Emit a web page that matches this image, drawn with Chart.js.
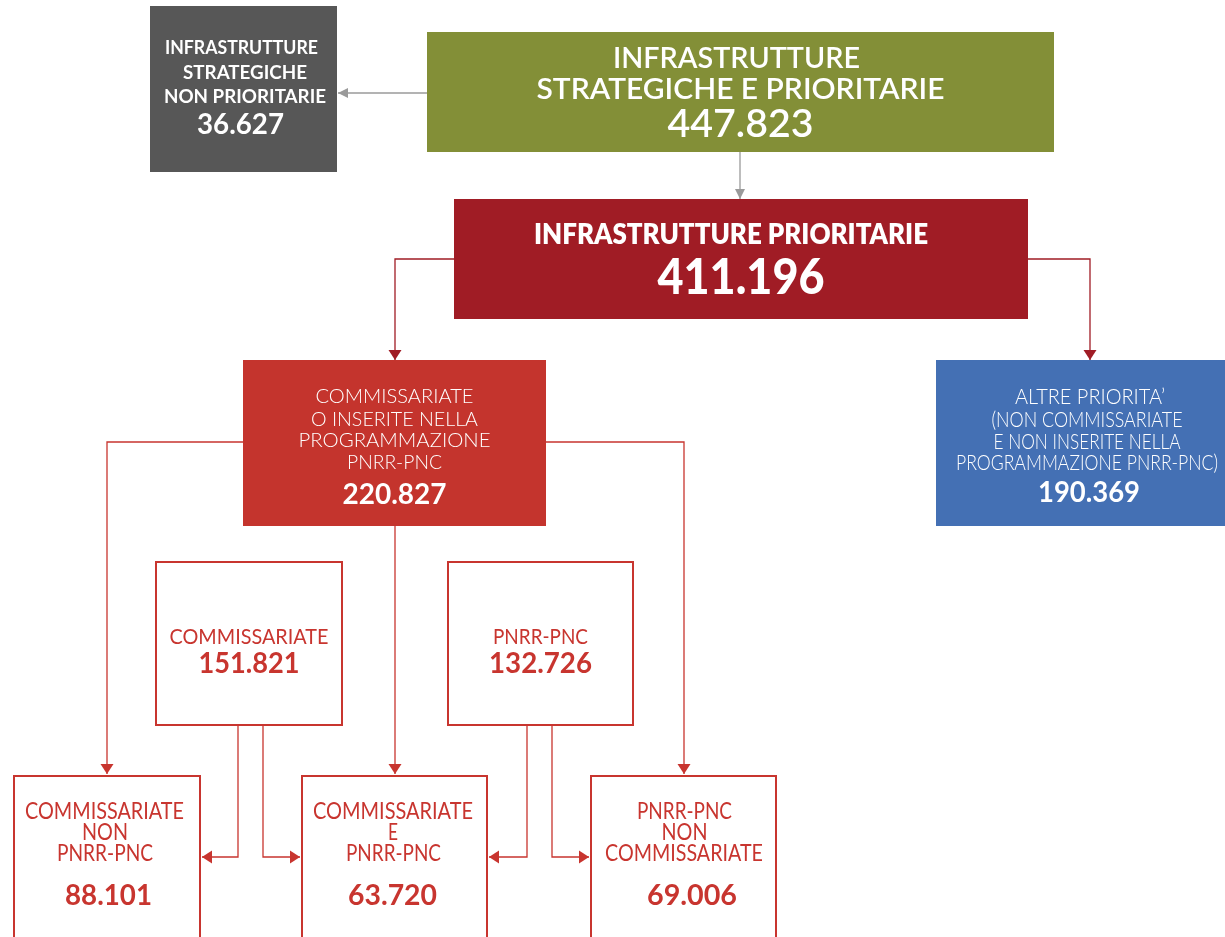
<!DOCTYPE html>
<html lang="it">
<head>
<meta charset="utf-8">
<title>Infrastrutture strategiche e prioritarie</title>
<script src="https://cdn.jsdelivr.net/npm/chart.js@4.4.1/dist/chart.umd.min.js"></script>
<style>
  html, body { margin: 0; padding: 0; background: #fff; }
  canvas { display: block; }
</style>
</head>
<body>
<canvas id="flow" width="1225" height="937"></canvas>
<script>
// Node labels (one entry per box, split in lines as in the original)
const nodeLabels = [
    ['INFRASTRUTTURE', 'STRATEGICHE E PRIORITARIE'],
    ['INFRASTRUTTURE', 'STRATEGICHE', 'NON PRIORITARIE'],
    ['INFRASTRUTTURE PRIORITARIE'],
    ['COMMISSARIATE', 'O INSERITE NELLA', 'PROGRAMMAZIONE', 'PNRR-PNC'],
    ['ALTRE PRIORITA\u2019', '(NON COMMISSARIATE', 'E NON INSERITE NELLA', 'PROGRAMMAZIONE PNRR-PNC)'],
    ['COMMISSARIATE'],
    ['PNRR-PNC'],
    ['COMMISSARIATE', 'NON', 'PNRR-PNC'],
    ['COMMISSARIATE', 'E', 'PNRR-PNC'],
    ['PNRR-PNC', 'NON', 'COMMISSARIATE']
];

// Values shown in each box
const nodeValues = [447823, 36627, 411196, 220827, 190369, 151821, 132726, 88101, 63720, 69006];

// Connections (from node, to node)
const links = [[0, 1], [0, 2], [2, 3], [2, 4], [3, 7], [3, 8], [3, 9], [5, 7], [5, 8], [6, 8], [6, 9]];

// ---- layout / style (page units, mapped through the chart scales) ----
const GREEN = '#838F37', GREY = '#575757', DARKRED = '#A01C25', RED = '#C4342D',
      BLUE = '#4470B4', LINE_RED = '#C8352F', LINE_GREY = '#9A9A9A';

// lines: [centre y, cap height, width, weight, optional centre x]
const layout = [
    { box: [427, 32, 1054, 152], fill: GREEN, color: '#fff',
      lines: [[57.5, 21, 247, 600, 736.5], [88, 21, 408, 600]], value: [123.5, 27, 146, 600] },
    { box: [150, 6, 337, 172], fill: GREY, color: '#fff',
      lines: [[47, 14, 153, 700, 241.5], [72, 14, 124, 700, 245], [96, 14, 162, 700, 245]], value: [124, 20, 87, 700, 240.5] },
    { box: [454, 199, 1028, 319], fill: DARKRED, color: '#fff',
      lines: [[234, 20, 394, 800, 731]], value: [276, 36, 167, 900] },
    { box: [243, 360, 546, 526], fill: RED, color: '#fff',
      lines: [[396, 14, 158, 300], [418.5, 14, 167, 300], [440, 14, 192, 300], [461.5, 14, 95, 300]], value: [493.5, 21, 104, 700] },
    { box: [936, 360, 1238, 526], fill: BLUE, color: '#fff',
      lines: [[396, 15, 150, 300, 1090], [419, 15, 191, 300], [441, 15, 187, 300], [462, 15, 262, 300]], value: [492, 20, 102, 700, 1089] },
    { box: [155, 561, 343, 726], stroke: LINE_RED, color: LINE_RED,
      lines: [[636, 15, 159, 400]], value: [663, 20, 101, 700] },
    { box: [447, 561, 634, 726], stroke: LINE_RED, color: LINE_RED,
      lines: [[636, 15, 95, 400]], value: [663, 20, 103, 700] },
    { box: [13, 775, 201, 960], stroke: LINE_RED, color: LINE_RED,
      lines: [[811, 16, 159, 400, 104.5], [832, 16, 46, 400, 105], [853, 16, 96, 400, 105]], value: [894.5, 20, 87, 700, 108.5] },
    { box: [301, 775, 488, 960], stroke: LINE_RED, color: LINE_RED,
      lines: [[811, 16, 160, 400, 393], [832, 16, 10, 400, 393], [853, 16, 95, 400, 393.5]], value: [894.5, 20, 89, 700, 392.5] },
    { box: [590, 775, 777, 960], stroke: LINE_RED, color: LINE_RED,
      lines: [[811, 16, 95, 400, 684.5], [832, 16, 46, 400, 684.5], [853, 16, 158, 400, 684]], value: [894.5, 20, 90, 700, 692] }
];

// routing of each link, same order as links
const routes = [
    { pts: [[427, 93], [338, 93]], color: LINE_GREY },
    { pts: [[740, 152], [740, 199]], color: LINE_GREY },
    { pts: [[454, 259], [395, 259], [395, 360]], color: DARKRED },
    { pts: [[1028, 259], [1090, 259], [1090, 360]], color: DARKRED },
    { pts: [[243, 442], [107, 442], [107, 774]], color: LINE_RED },
    { pts: [[395, 526], [395, 774]], color: LINE_RED },
    { pts: [[546, 442], [684, 442], [684, 774]], color: LINE_RED },
    { pts: [[238, 726], [238, 857], [202, 857]], color: LINE_RED },
    { pts: [[263, 726], [263, 857], [300, 857]], color: LINE_RED },
    { pts: [[527, 726], [527, 857], [489, 857]], color: LINE_RED },
    { pts: [[552, 726], [552, 857], [589, 857]], color: LINE_RED }
];

const FONT = 'Lato, "Open Sans", sans-serif';
const CAP = 0.7165;

const formatValue = (v) => String(v).replace(/\B(?=(\d{3})+(?!\d))/g, '.');

// text whose cap height and width are fitted to the given box
const fitText = (ctx, text, cx, cy, capH, width, weight, color) => {
    const size = capH / CAP;
    ctx.save();
    ctx.font = weight + ' ' + size.toFixed(2) + 'px ' + FONT;
    ctx.fillStyle = color;
    ctx.textAlign = 'center';
    ctx.textBaseline = 'alphabetic';
    const natural = ctx.measureText(text).width;
    ctx.translate(cx, cy + capH / 2);
    ctx.scale(width / natural, 1);
    ctx.fillText(text, 0, 0);
    ctx.restore();
};

const flowPlugin = {
    id: 'flowDiagram',
    beforeDatasetsDraw(chart) {
        const ctx = chart.ctx;
        const xs = chart.scales.x, ys = chart.scales.y;
        const X = (v) => xs.getPixelForValue(v);
        const Y = (v) => ys.getPixelForValue(v);
        const scaleY = Math.abs(Y(1) - Y(0));

        // connectors
        links.forEach((link, i) => {
            const r = routes[i];
            const pts = r.pts.map(p => [X(p[0]), Y(p[1])]);
            ctx.save();
            ctx.strokeStyle = r.color;
            ctx.fillStyle = r.color;
            ctx.lineWidth = 1.3;
            ctx.beginPath();
            pts.forEach((p, k) => k ? ctx.lineTo(p[0], p[1]) : ctx.moveTo(p[0], p[1]));
            ctx.stroke();
            // arrow head at the end
            const a = pts[pts.length - 2], b = pts[pts.length - 1];
            const ang = Math.atan2(b[1] - a[1], b[0] - a[0]);
            const len = 10, half = r.color === LINE_GREY ? 5 : 6.5;
            ctx.translate(b[0], b[1]);
            ctx.rotate(ang);
            ctx.beginPath();
            ctx.moveTo(0, 0);
            ctx.lineTo(-len, -half);
            ctx.lineTo(-len, half);
            ctx.closePath();
            ctx.fill();
            ctx.restore();
        });

        // boxes and their texts
        layout.forEach((n, i) => {
            const [x0, y0, x1, y1] = n.box;
            const px = X(x0), py = Y(y0), w = X(x1) - px, h = Y(y1) - py;
            ctx.save();
            if (n.fill) {
                ctx.fillStyle = n.fill;
                ctx.fillRect(px, py, w, h);
            } else {
                ctx.fillStyle = '#fff';
                ctx.fillRect(px, py, w, h);
                ctx.strokeStyle = n.stroke;
                ctx.lineWidth = 2;
                ctx.strokeRect(px + 1, py + 1, w - 2, h - 2);
            }
            ctx.restore();
            const mid = (x0 + x1) / 2;
            nodeLabels[i].forEach((txt, k) => {
                const [cy, capH, tw, wt, lx] = n.lines[k];
                fitText(ctx, txt, X(lx || mid), Y(cy), capH * scaleY, tw, wt, n.color);
            });
            const [vy, vh, vw, vwt, vx] = n.value;
            fitText(ctx, formatValue(nodeValues[i]), X(vx || mid), Y(vy), vh * scaleY, vw, vwt, n.color);
        });
    }
};

// anchors of the boxes (centres), kept as an invisible dataset
const anchors = layout.map(n => ({ x: (n.box[0] + n.box[2]) / 2, y: (n.box[1] + n.box[3]) / 2 }));

const flowChart = new Chart(document.getElementById('flow').getContext('2d'), {
    type: 'scatter',
    data: {
        datasets: [{
            label: 'Nodi',
            data: anchors,
            pointRadius: 0,
            pointHoverRadius: 0
        }]
    },
    options: {
        responsive: false,
        animation: false,
        events: [],
        layout: { padding: 0 },
        plugins: {
            legend: { display: false },
            tooltip: { enabled: false }
        },
        scales: {
            x: { type: 'linear', min: 0, max: 1225, display: false },
            y: { type: 'linear', min: 0, max: 937, reverse: true, display: false }
        }
    },
    plugins: [flowPlugin]
});
</script>
</body>
</html>
